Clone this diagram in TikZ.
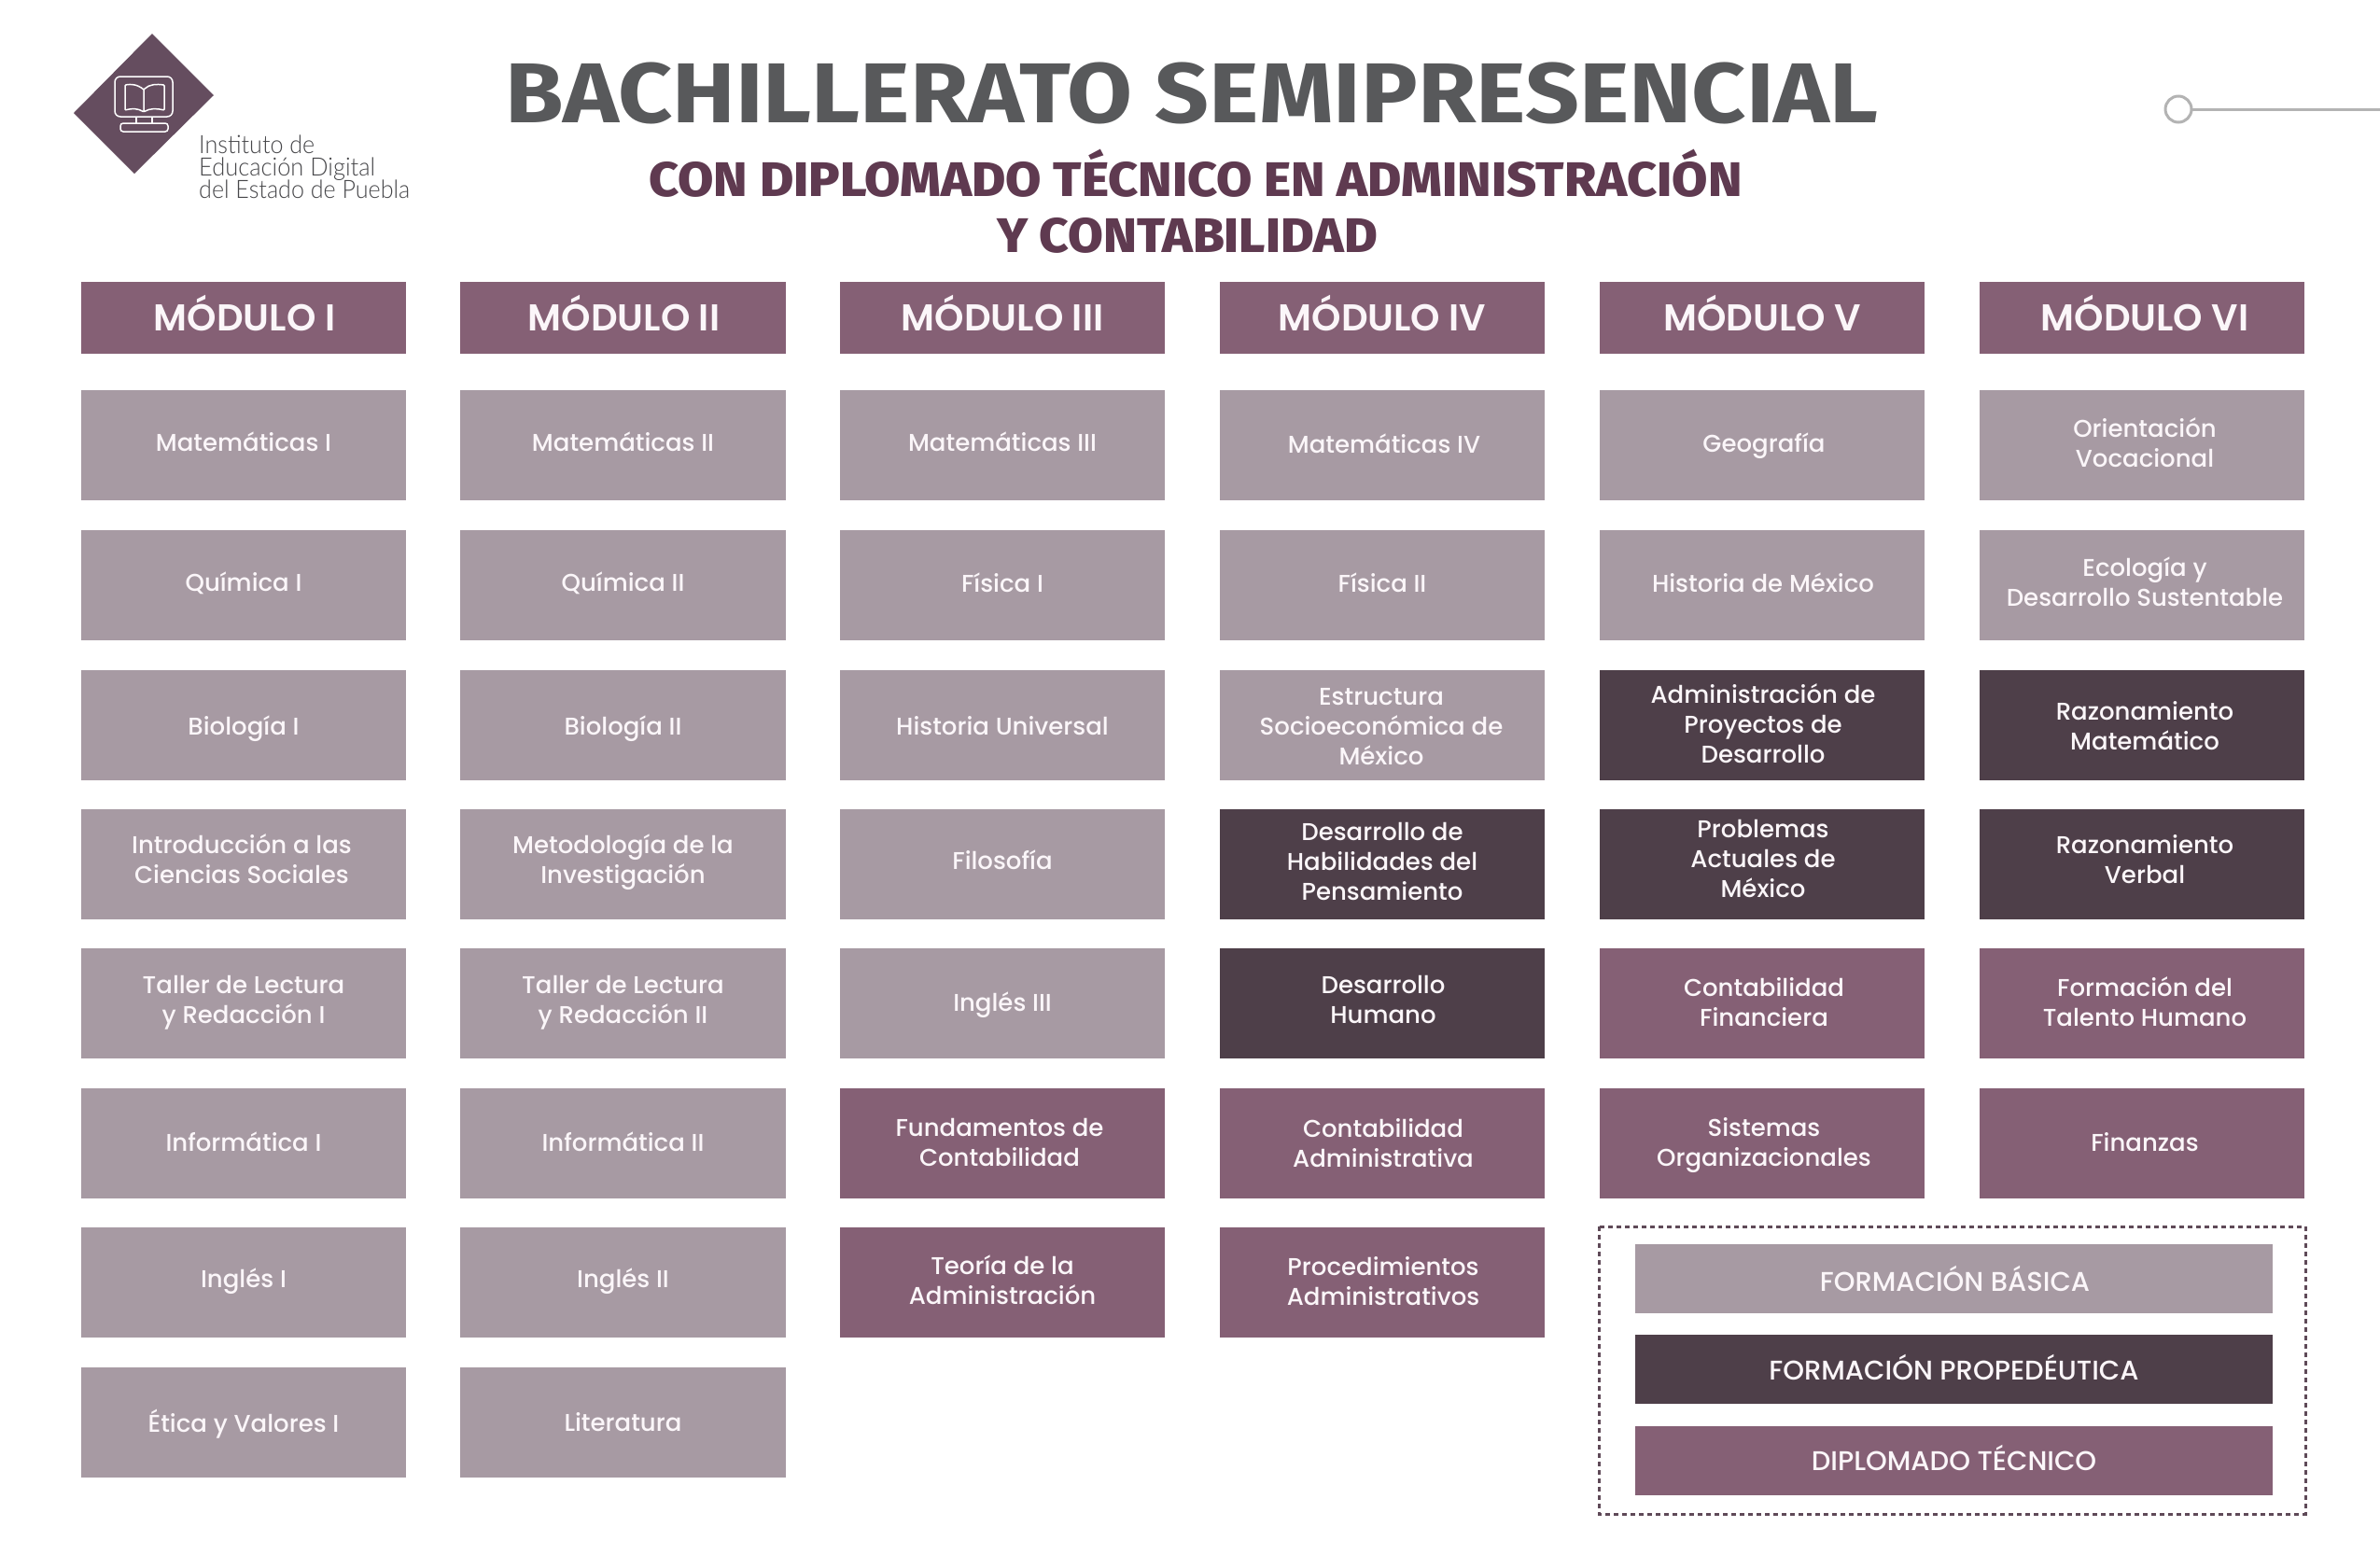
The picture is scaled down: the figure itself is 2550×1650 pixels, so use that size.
\documentclass[tikz,border=0pt]{standalone}
\usepackage{fontspec}
\setmainfont{Poppins}
\newfontfamily\titlefont{Fira Sans Bold}
\newfontfamily\subfont{Fira Sans ExtraBold}
\newfontfamily\logofont{Lato Light}
\newfontfamily\cellfont{Poppins Medium}
\newfontfamily\headfont{Poppins SemiBold}
\definecolor{cLight}{HTML}{A79AA3}
\definecolor{cDark}{HTML}{4E3F49}
\definecolor{cPlum}{HTML}{856075}
\definecolor{cLogo}{HTML}{654D5F}
\definecolor{cSub}{HTML}{5F3A50}
\definecolor{cTitle}{HTML}{58595B}
\definecolor{cLogoInk}{HTML}{47474A}
\definecolor{cInk}{HTML}{FBF6F9}
\definecolor{cGrey}{HTML}{B3B3B3}
\definecolor{cDash}{HTML}{5F4A58}
\tikzset{
  cellbox/.style={inner sep=0pt,minimum width=348.5pt,minimum height=118pt,text=cInk,font=\cellfont\fontsize{26}{32}\selectfont},
  light/.style={cellbox,fill=cLight},
  dark/.style={cellbox,fill=cDark},
  plum/.style={cellbox,fill=cPlum},
  headbox/.style={cellbox,fill=cPlum,minimum height=77.5pt,font=\headfont\fontsize{40}{44}\selectfont},
  legbox/.style={cellbox,minimum width=683pt,minimum height=74pt,font=\cellfont\fontsize{29}{32}\selectfont},
  logotext/.style={inner sep=0pt,anchor=base west,text=cLogoInk,font=\logofont\fontsize{27}{27}\selectfont},
  iconline/.style={draw=white,line width=1.5pt,rounded corners=1pt}
}
% name, xc, yc, style, dx, dy, text
\newcommand\subj[7]{\node[#4] (#1) at (#2,#3) {\raisebox{#6pt}[0pt][0pt]{\makebox[0pt][c]{\hspace*{#5pt}\hspace*{#5pt}\begin{tabular}{@{}c@{}}#7\end{tabular}}}};}
\begin{document}
\begin{tikzpicture}[x=1pt,y=-1pt]
\useasboundingbox (0,0) rectangle (2550,1650);
\fill[white] (0,0) rectangle (2550,1650);
% logo
\fill[cLogo] (163,36) -- (229,102) -- (144,186) -- (79,121) -- cycle;
\draw[iconline,rounded corners=6pt] (123,82) rectangle (185,125);
\draw[iconline] (146,125) -- (146,132) (163,125) -- (163,132);
\draw[iconline,rounded corners=3pt] (129,132) rectangle (180,141);
\draw[iconline] (154,96) .. controls (147,90) and (140,90) .. (134,91) -- (134,118) .. controls (141,116) and (148,116) .. (154,120) .. controls (160,116) and (168,116) .. (176,118) -- (176,91) .. controls (168,90) and (160,90) .. (154,96) -- (154,120);
\node[logotext] (logoa) at (213,164) {\resizebox{124pt}{\height}{Instituto de}};
\node[logotext] (logob) at (213,188) {\resizebox{189pt}{\height}{Educación Digital}};
\node[logotext] (logoc) at (213,212) {\resizebox{226pt}{\height}{del Estado de Puebla}};
% titles
\node[inner sep=0pt,anchor=base,text=cTitle,font=\titlefont\fontsize{91}{91}\selectfont] (title) at (1277,131) {\resizebox{1471pt}{\height}{BACHILLERATO SEMIPRESENCIAL}};
\node[inner sep=0pt,anchor=base,text=cSub,font=\subfont\fontsize{52}{52}\selectfont] (subone) at (1281,210) {\resizebox{1171pt}{\height}{CON DIPLOMADO TÉCNICO EN ADMINISTRACIÓN}};
\node[inner sep=0pt,anchor=base,text=cSub,font=\subfont\fontsize{52}{52}\selectfont] (subtwo) at (1272,270) {\resizebox{408pt}{\height}{Y CONTABILIDAD}};
% decoration
\draw[cGrey,line width=3pt] (2334,117) circle (14);
\coordinate (decoend) at (2550,117);
\draw[cGrey,line width=3pt] (2348,117) -- (decoend);
% headers
\subj{hA}{261}{340.5}{headbox}{1}{-7.5}{MÓDULO I}
\subj{hB}{667.5}{340.5}{headbox}{1}{-7.5}{MÓDULO II}
\subj{hC}{1074}{340.5}{headbox}{0}{-7.5}{MÓDULO III}
\subj{hD}{1481}{340.5}{headbox}{0}{-7.5}{MÓDULO IV}
\subj{hE}{1888}{340.5}{headbox}{0}{-7.5}{MÓDULO V}
\subj{hF}{2295}{340.5}{headbox}{3}{-7.5}{MÓDULO VI}
% module I
\subj{aA}{261}{477}{light}{0}{-6.5}{Matemáticas I}
\subj{aB}{261}{626.5}{light}{0}{-6.5}{Química I}
\subj{aC}{261}{776.5}{light}{0}{-10.5}{Biología I}
\subj{aD}{261}{926}{light}{-2}{-4}{Introducción a las\\Ciencias Sociales}
\subj{aE}{261}{1075}{light}{0}{-5.5}{Taller de Lectura\\y Redacción I}
\subj{aF}{261}{1225}{light}{0}{-8.5}{Informática I}
\subj{aG}{261}{1374}{light}{0}{-5.5}{Inglés I}
\subj{aH}{261}{1524}{light}{0}{-9.5}{Ética y Valores I}
% module II
\subj{bA}{667.5}{477}{light}{0}{-6.5}{Matemáticas II}
\subj{bB}{667.5}{626.5}{light}{0}{-6.5}{Química II}
\subj{bC}{667.5}{776.5}{light}{0}{-10.5}{Biología II}
\subj{bD}{667.5}{926}{light}{0}{-4}{Metodología de la\\Investigación}
\subj{bE}{667.5}{1075}{light}{0}{-5.5}{Taller de Lectura\\y Redacción II}
\subj{bF}{667.5}{1225}{light}{0}{-8.5}{Informática II}
\subj{bG}{667.5}{1374}{light}{0}{-5.5}{Inglés II}
\subj{bH}{667.5}{1524}{light}{0}{-9.5}{Literatura}
% module III
\subj{cA}{1074}{477}{light}{0}{-6.5}{Matemáticas III}
\subj{cB}{1074}{626.5}{light}{0}{-7.5}{Física I}
\subj{cC}{1074}{776.5}{light}{0}{-10.5}{Historia Universal}
\subj{cD}{1074}{926}{light}{0}{-5.5}{Filosofía}
\subj{cE}{1074}{1075}{light}{0}{-8}{Inglés III}
\subj{cF}{1074}{1225}{plum}{-3}{-8.5}{Fundamentos de\\Contabilidad}
\subj{cG}{1074}{1374}{plum}{0}{-7}{Teoría de la\\Administración}
% module IV
\subj{dA}{1481}{477}{light}{2}{-8.5}{Matemáticas IV}
\subj{dB}{1481}{626.5}{light}{0}{-7.5}{Física II}
\subj{dC}{1481}{776.5}{light}{-1}{-11}{Estructura\\Socioeconómica de\\México}
\subj{dD}{1481}{926}{dark}{0}{-6.5}{Desarrollo de\\Habilidades del\\Pensamiento}
\subj{dE}{1481}{1075}{dark}{1}{-5.5}{Desarrollo\\Humano}
\subj{dF}{1481}{1225}{plum}{1}{-9.5}{Contabilidad\\Administrativa}
\subj{dG}{1481}{1374}{plum}{1}{-8}{Procedimientos\\Administrativos}
% module V
\subj{eA}{1888}{477}{light}{2}{-7.5}{Geografía}
\subj{eB}{1888}{626.5}{light}{1}{-7.5}{Historia de México}
\subj{eC}{1888}{776.5}{dark}{1}{-8.5}{Administración de\\Proyectos de\\Desarrollo}
\subj{eD}{1888}{926}{dark}{1}{-3.5}{Problemas\\Actuales de\\México}
\subj{eE}{1888}{1075}{plum}{2}{-8.5}{Contabilidad\\Financiera}
\subj{eF}{1888}{1225}{plum}{2}{-8}{Sistemas\\Organizacionales}
% module VI
\subj{fA}{2295}{477}{light}{3}{-7}{Orientación\\Vocacional}
\subj{fB}{2295}{626.5}{light}{3}{-7}{Ecología y\\Desarrollo Sustentable}
\subj{fC}{2295}{776.5}{dark}{3}{-11}{Razonamiento\\Matemático}
\subj{fD}{2295}{926}{dark}{3}{-4}{Razonamiento\\Verbal}
\subj{fE}{2295}{1075}{plum}{3}{-8.5}{Formación del\\Talento Humano}
\subj{fF}{2295}{1225}{plum}{3}{-8.5}{Finanzas}
% legend
\draw[cDash,line width=3pt,dash pattern=on 5pt off 4pt] (1713,1314) rectangle (2470,1622);
\subj{lA}{2093.5}{1370}{legbox,fill=cLight}{1}{-10.5}{FORMACIÓN BÁSICA}
\subj{lB}{2093.5}{1467}{legbox,fill=cDark}{0}{-9}{FORMACIÓN PROPEDÉUTICA}
\subj{lC}{2093.5}{1564.5}{legbox,fill=cPlum}{0}{-8.5}{DIPLOMADO TÉCNICO}
\end{tikzpicture}
\end{document}
